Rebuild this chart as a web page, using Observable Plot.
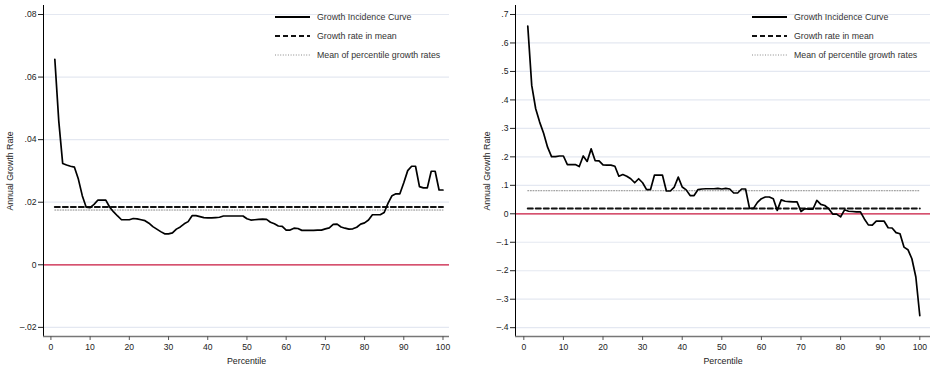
<!DOCTYPE html>
<html><head><meta charset="utf-8">
<script src="https://cdn.jsdelivr.net/npm/d3@7"></script>
<script src="https://cdn.jsdelivr.net/npm/@observablehq/plot@0.6"></script>
<style>
body{margin:0;background:#fff;}
#wrap{position:relative;width:930px;height:368px;display:flex;}
.panel{position:relative;width:465px;height:368px;}
.panel svg.legend{position:absolute;top:0;overflow:visible;}
</style></head><body>
<div id="wrap"><div class="panel" id="p1"></div><div class="panel" id="p2"></div></div>
<script>
const percentiles = d3.range(1, 101);
const gicLeft = [
0.0657,0.046,0.0324,0.0319,0.0315,0.0312,0.0274,0.0221,0.0184,0.0183,
0.0193,0.0207,0.0207,0.0207,0.0184,0.0169,0.0156,0.0144,0.0144,0.0144,
0.0148,0.0147,0.0144,0.0141,0.0133,0.0122,0.0114,0.0106,0.0099,0.0099,
0.0102,0.0114,0.0121,0.0131,0.0138,0.0157,0.0157,0.0154,0.0151,0.015,
0.015,0.0151,0.0152,0.0156,0.0156,0.0156,0.0156,0.0156,0.0156,0.0147,
0.0143,0.0144,0.0145,0.0146,0.0145,0.0136,0.0131,0.0124,0.0123,0.0111,
0.0111,0.0117,0.0116,0.011,0.011,0.011,0.011,0.0111,0.0111,0.0115,
0.0118,0.0129,0.013,0.0121,0.0117,0.0114,0.0115,0.012,0.013,0.0134,
0.0143,0.016,0.016,0.016,0.0167,0.0197,0.0221,0.0227,0.0227,0.0262,
0.0301,0.0315,0.0315,0.025,0.0246,0.0246,0.0299,0.0299,0.0239,0.0239];
const gicRight = [
0.659,0.451,0.369,0.322,0.283,0.234,0.201,0.201,0.203,0.203,
0.173,0.173,0.173,0.166,0.203,0.184,0.228,0.187,0.186,0.172,
0.171,0.171,0.167,0.132,0.138,0.132,0.123,0.109,0.123,0.109,
0.085,0.085,0.136,0.136,0.136,0.080,0.080,0.094,0.129,0.094,
0.084,0.064,0.064,0.085,0.087,0.088,0.088,0.088,0.089,0.087,
0.089,0.087,0.073,0.073,0.087,0.087,0.019,0.019,0.040,0.053,
0.059,0.059,0.053,0.012,0.049,0.044,0.043,0.042,0.042,0.008,
0.018,0.016,0.016,0.047,0.033,0.029,0.018,-0.001,-0.001,-0.011,
0.014,0.009,0.008,0.007,0.007,-0.018,-0.039,-0.040,-0.026,-0.026,
-0.026,-0.049,-0.050,-0.066,-0.070,-0.117,-0.126,-0.158,-0.222,-0.358];
const meanGrowthLeft = 0.0185, meanPctLeft = 0.0175;
const meanGrowthRight = 0.019, meanPctRight = 0.081;
const yTicksLeft = [-0.02, 0, 0.02, 0.04, 0.06, 0.08];
const yTicksRight = [-0.4, -0.3, -0.2, -0.1, 0, 0.1, 0.2, 0.3, 0.4, 0.5, 0.6, 0.7];
const xTicks = [0, 10, 20, 30, 40, 50, 60, 70, 80, 90, 100];
const legendLabels = ["Growth Incidence Curve", "Growth rate in mean", "Mean of percentile growth rates"];
const xLabel = "Percentile", yLabel = "Annual Growth Rate";

const FONT = '"Liberation Sans", Arial, Helvetica, sans-serif';
const fmt = d => d === 0 ? "0" : (d < 0 ? "\u2013" : "") + String(+Math.abs(d).toFixed(3)).replace(/^0/, "");

function panel(el, cfg) {
  const rows = percentiles.map((p, i) => ({p, v: cfg.values[i]}));
  const chart = Plot.plot({
    width: 465, height: 368,
    marginLeft: cfg.ml, marginRight: cfg.mr, marginTop: 5, marginBottom: 32,
    style: {fontFamily: FONT, fontSize: "8.6px", background: "white", color: "#222"},
    x: {domain: cfg.xDomain},
    y: {domain: cfg.yDomain},
    marks: [
      Plot.ruleY(cfg.yTicks.filter(d => d !== 0), {stroke: "#e4e8f1", strokeWidth: 1.2}),
      Plot.ruleY([0], {stroke: "#c8173f", strokeWidth: 1.2}),
      Plot.ruleX([cfg.xDomain[0]], {stroke: "#000", strokeWidth: 1}),
      Plot.ruleY([cfg.yDomain[0]], {stroke: "#777", strokeWidth: 1.6}),
      Plot.axisY(cfg.yTicks, {tickFormat: fmt, tickSize: 5, tickPadding: 2, label: null, fontSize: 8.6}),
      Plot.axisX(xTicks, {tickSize: 4, tickPadding: 3, label: null, stroke: "#555", fontSize: 8.6}),
      Plot.lineY(rows, {x: "p", y: () => cfg.meanPct, stroke: "#8a8a8a", strokeWidth: 1, strokeDasharray: "1,1.6"}),
      Plot.lineY(rows, {x: "p", y: () => cfg.meanGrowth, stroke: "#111", strokeWidth: 2, strokeDasharray: "5,3"}),
      Plot.lineY(rows, {x: "p", y: "v", stroke: "#000", strokeWidth: 1.7, strokeLinejoin: "round"}),
      Plot.text([yLabel], {frameAnchor: "left", dx: -cfg.yTitleOff, rotate: -90, textAnchor: "middle", lineAnchor: "middle", fontSize: 8.8, fill: "#222"}),
      Plot.text([xLabel], {frameAnchor: "bottom", dy: 25, textAnchor: "middle", lineAnchor: "middle", fontSize: 8.8, fill: "#222"})
    ]
  });
  el.appendChild(chart);
  // legend
  const svg = d3.select(el).append("svg").attr("class", "legend")
    .style("left", cfg.legX + "px").attr("width", 200).attr("height", 70);
  const styles = [
    {stroke: "#000", w: 2, dash: null},
    {stroke: "#111", w: 2, dash: "5,3"},
    {stroke: "#8a8a8a", w: 1, dash: "1,1.6"}
  ];
  legendLabels.forEach((t, i) => {
    const y = 17 + i * 19;
    svg.append("line").attr("x1", 0).attr("x2", 35).attr("y1", y).attr("y2", y)
      .attr("stroke", styles[i].stroke).attr("stroke-width", styles[i].w)
      .attr("stroke-dasharray", styles[i].dash);
    svg.append("text").attr("x", 42).attr("y", y).attr("dy", "0.34em")
      .attr("font-family", FONT).attr("font-size", 8.8).attr("fill", "#333").text(t);
  });
}

panel(document.getElementById("p1"), {
  values: gicLeft, meanGrowth: meanGrowthLeft, meanPct: meanPctLeft,
  yTicks: yTicksLeft, xDomain: [-1.89, 101.66], yDomain: [-0.02292, 0.08288],
  ml: 43, mr: 16, yTitleOff: 33, legX: 275
});
panel(document.getElementById("p2"), {
  values: gicRight, meanGrowth: meanGrowthRight, meanPct: meanPctRight,
  yTicks: yTicksRight, xDomain: [-2.1, 102.7], yDomain: [-0.431, 0.7316],
  ml: 50, mr: 0, yTitleOff: 28, legX: 287
});
</script>
</body></html>
